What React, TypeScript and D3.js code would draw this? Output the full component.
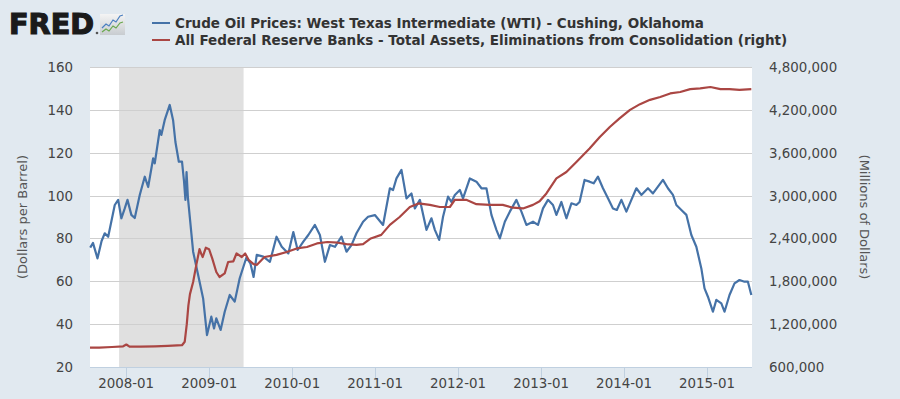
import React, { useRef, useEffect } from 'react';
import * as d3 from 'd3';

// WTI crude, dollars per barrel
const oilSeries: [string, number][] = [
  ['2007-07-27', 75.7], ['2007-08-08', 77.9], ['2007-08-28', 70.7], ['2007-09-15', 78.8],
  ['2007-09-29', 82.4], ['2007-10-14', 80.8], ['2007-11-12', 95.6], ['2007-11-27', 98],
  ['2007-12-11', 89.4], ['2007-12-26', 94], ['2008-01-07', 98], ['2008-01-24', 91],
  ['2008-02-08', 89.5], ['2008-03-01', 100.3], ['2008-03-23', 108.8], ['2008-04-07', 104],
  ['2008-04-29', 117.4], ['2008-05-06', 115], ['2008-05-28', 130.6], ['2008-06-04', 128.3],
  ['2008-06-19', 135.3], ['2008-07-11', 142.3], ['2008-07-26', 135], ['2008-08-05', 125],
  ['2008-08-20', 115.8], ['2008-09-03', 115.8], ['2008-09-12', 106.5], ['2008-09-18', 98],
  ['2008-09-23', 111], ['2008-09-29', 99], ['2008-10-22', 73.8], ['2008-11-13', 62.9],
  ['2008-12-05', 52], ['2008-12-22', 34.9], ['2009-01-10', 43.5], ['2009-01-22', 38],
  ['2009-02-01', 42.7], ['2009-02-20', 37.3], ['2009-03-10', 45.8], ['2009-04-01', 53.6],
  ['2009-04-23', 50.5], ['2009-05-15', 61.4], ['2009-06-13', 71], ['2009-07-01', 68.4],
  ['2009-07-15', 62], ['2009-07-29', 72.3], ['2009-08-27', 71.5], ['2009-09-25', 69.1],
  ['2009-10-24', 80.8], ['2009-11-16', 76.1], ['2009-12-15', 73], ['2010-01-06', 83],
  ['2010-01-25', 74.6], ['2010-02-19', 78.5], ['2010-03-13', 81.6], ['2010-04-11', 86.3],
  ['2010-05-03', 81.6], ['2010-05-25', 69.1], ['2010-06-16', 76.9], ['2010-07-08', 76.1],
  ['2010-08-06', 80.8], ['2010-08-28', 73.8], ['2010-09-19', 76.9], ['2010-10-11', 82.4],
  ['2010-11-09', 87.8], ['2010-12-01', 90.1], ['2010-12-31', 90.9], ['2011-02-05', 86.3],
  ['2011-03-07', 103.4], ['2011-03-21', 102.6], ['2011-04-05', 108], ['2011-04-27', 112],
  ['2011-05-19', 98.7], ['2011-06-10', 101], ['2011-06-25', 94], ['2011-07-17', 98],
  ['2011-08-15', 84], ['2011-09-06', 89.4], ['2011-09-21', 84], ['2011-10-10', 79.3],
  ['2011-10-27', 90.1], ['2011-11-18', 99.5], ['2011-12-03', 97], ['2011-12-18', 100.3],
  ['2012-01-09', 102.6], ['2012-01-23', 98.7], ['2012-02-22', 108], ['2012-03-22', 106.5],
  ['2012-04-13', 103.4], ['2012-05-05', 103.4], ['2012-05-27', 91], ['2012-06-18', 84],
  ['2012-07-03', 80], ['2012-07-25', 87.8], ['2012-08-16', 92.5], ['2012-09-14', 98],
  ['2012-10-06', 92.5], ['2012-10-28', 86.3], ['2012-11-26', 87.8], ['2012-12-18', 86.3],
  ['2013-01-09', 94], ['2013-01-31', 98], ['2013-02-22', 95.6], ['2013-03-09', 91],
  ['2013-03-31', 97], ['2013-04-22', 89.4], ['2013-05-14', 96.4], ['2013-06-05', 95.6],
  ['2013-06-19', 97], ['2013-07-11', 107.3], ['2013-08-02', 106.5], ['2013-08-20', 105.7],
  ['2013-09-08', 108.8], ['2013-09-30', 103.4], ['2013-10-22', 98.7], ['2013-11-13', 94],
  ['2013-11-30', 93.3], ['2013-12-20', 98], ['2014-01-11', 92.5], ['2014-02-02', 98],
  ['2014-02-24', 103.4], ['2014-03-18', 100.3], ['2014-04-16', 103.4], ['2014-05-08', 101],
  ['2014-05-30', 104.2], ['2014-06-21', 107.3], ['2014-07-13', 103.4], ['2014-08-04', 100.3],
  ['2014-08-19', 95.6], ['2014-09-10', 93.3], ['2014-10-02', 91], ['2014-10-24', 81.6],
  ['2014-11-15', 76.1], ['2014-12-07', 66], ['2014-12-21', 56.7], ['2015-01-05', 52.8],
  ['2015-01-27', 45.8], ['2015-02-11', 51.3], ['2015-03-05', 49.7], ['2015-03-19', 45.8],
  ['2015-04-10', 53.6], ['2015-05-02', 59], ['2015-05-24', 60.6], ['2015-06-15', 59.8],
  ['2015-06-30', 59.8], ['2015-07-15', 53.6]
];

// Fed total assets, millions of dollars
const assetSeries: [string, number][] = [
  ['2007-07-26', 870000], ['2007-09-05', 872000], ['2007-10-31', 880000], ['2007-12-19', 890000],
  ['2008-01-02', 915000], ['2008-01-16', 885000], ['2008-03-05', 885000], ['2008-05-07', 890000],
  ['2008-07-02', 895000], ['2008-09-03', 905000], ['2008-09-15', 954000], ['2008-09-24', 1200000],
  ['2008-10-01', 1460000], ['2008-10-08', 1620000], ['2008-10-22', 1790000], ['2008-11-05', 2030000],
  ['2008-11-12', 2140000], ['2008-11-19', 2250000], ['2008-11-26', 2190000], ['2008-12-03', 2140000],
  ['2008-12-17', 2270000], ['2008-12-31', 2250000], ['2009-01-14', 2120000], ['2009-02-01', 1930000],
  ['2009-02-15', 1860000], ['2009-03-10', 1910000], ['2009-03-25', 2070000], ['2009-04-17', 2080000],
  ['2009-05-01', 2190000], ['2009-05-24', 2140000], ['2009-06-08', 2190000], ['2009-06-23', 2100000],
  ['2009-07-15', 2040000], ['2009-07-30', 2030000], ['2009-09-01', 2140000], ['2009-10-24', 2170000],
  ['2009-12-08', 2210000], ['2010-01-21', 2260000], ['2010-03-07', 2280000], ['2010-04-20', 2330000],
  ['2010-06-05', 2350000], ['2010-07-21', 2340000], ['2010-08-28', 2320000], ['2010-10-11', 2310000],
  ['2010-11-09', 2320000], ['2010-12-13', 2400000], ['2011-01-28', 2450000], ['2011-03-07', 2590000],
  ['2011-04-19', 2700000], ['2011-06-03', 2840000], ['2011-07-11', 2890000], ['2011-08-30', 2870000],
  ['2011-10-13', 2840000], ['2011-11-26', 2840000], ['2011-12-18', 2940000], ['2012-02-06', 2940000],
  ['2012-03-22', 2880000], ['2012-05-20', 2870000], ['2012-07-16', 2870000], ['2012-08-30', 2830000],
  ['2012-10-13', 2820000], ['2012-11-26', 2870000], ['2012-12-25', 2920000], ['2013-01-24', 3030000],
  ['2013-03-09', 3240000], ['2013-04-22', 3330000], ['2013-06-05', 3470000], ['2013-08-02', 3660000],
  ['2013-09-16', 3820000], ['2013-10-30', 3960000], ['2013-12-12', 4080000], ['2014-01-27', 4200000],
  ['2014-03-12', 4280000], ['2014-04-25', 4340000], ['2014-06-09', 4380000], ['2014-07-23', 4430000],
  ['2014-09-05', 4450000], ['2014-10-19', 4490000], ['2014-12-02', 4500000], ['2015-01-16', 4520000],
  ['2015-03-01', 4490000], ['2015-04-10', 4490000], ['2015-05-24', 4480000], ['2015-07-15', 4490000]
];

const leftTicks = [20, 40, 60, 80, 100, 120, 140, 160];
const rightTicks = [600000, 1200000, 1800000, 2400000, 3000000, 3600000, 4200000, 4800000];
const yearTicks = ['2008-01', '2009-01', '2010-01', '2011-01', '2012-01', '2013-01', '2014-01', '2015-01'];
const recession = ['2007-12-01', '2009-06-01'];
const legendLabels = [
  'Crude Oil Prices: West Texas Intermediate (WTI) - Cushing, Oklahoma',
  'All Federal Reserve Banks - Total Assets, Eliminations from Consolidation (right)'
];

const App = () => {
  const ref = useRef(null);

  useEffect(() => {
    document.body.style.margin = '0';
    const width = 900;
    const height = 399;
    const margin = { top: 67, right: 148, bottom: 32, left: 90 };
    const font = "'DejaVu Sans', Verdana, sans-serif";
    const parse = d3.timeParse('%Y-%m-%d');
    const parseMonth = d3.timeParse('%Y-%m');

    const svg = d3.select(ref.current).attr('width', width).attr('height', height);
    svg.selectAll('*').remove();

    svg.append('rect').attr('width', width).attr('height', height).attr('fill', '#e1e9f0');

    const x = d3.scaleTime()
      .domain([parse('2007-07-26'), parse('2015-07-18')])
      .range([margin.left, width - margin.right]);
    const yL = d3.scaleLinear().domain([20, 160]).range([height - margin.bottom, margin.top]);
    const yR = d3.scaleLinear().domain([600000, 4800000]).range([height - margin.bottom, margin.top]);

    const x0 = margin.left, x1 = width - margin.right;
    const yb = height - margin.bottom;

    svg.append('rect')
      .attr('x', x0).attr('y', margin.top)
      .attr('width', x1 - x0).attr('height', yb - margin.top)
      .attr('fill', '#ffffff');

    svg.append('rect')
      .attr('x', x(parse(recession[0]))).attr('y', margin.top)
      .attr('width', x(parse(recession[1])) - x(parse(recession[0])))
      .attr('height', yb - margin.top)
      .attr('fill', '#e0e0e0');

    // gridlines
    svg.append('g').selectAll('line')
      .data(leftTicks.slice(1))
      .enter().append('line')
      .attr('x1', x0).attr('x2', x1)
      .attr('y1', d => Math.round(yL(d)) + 0.5).attr('y2', d => Math.round(yL(d)) + 0.5)
      .attr('stroke', '#cfcfcf').attr('stroke-width', 1);

    // x axis
    const xg = svg.append('g');
    xg.append('line')
      .attr('x1', x0).attr('x2', x1).attr('y1', yb + 0.5).attr('y2', yb + 0.5)
      .attr('stroke', '#c0d0e0');
    xg.selectAll('.tick')
      .data(yearTicks)
      .enter().append('line')
      .attr('x1', d => Math.round(x(parseMonth(d))) + 0.5)
      .attr('x2', d => Math.round(x(parseMonth(d))) + 0.5)
      .attr('y1', yb).attr('y2', yb + 11)
      .attr('stroke', '#c0d0e0');
    xg.selectAll('text')
      .data(yearTicks)
      .enter().append('text')
      .attr('x', d => x(parseMonth(d)))
      .attr('y', yb + 21)
      .attr('text-anchor', 'middle')
      .style('font-family', font).style('font-size', '13.4px').attr('fill', '#444')
      .text(d => d);

    svg.append('g').selectAll('text')
      .data(leftTicks)
      .enter().append('text')
      .attr('x', 73).attr('y', d => yL(d) + 5)
      .attr('text-anchor', 'end')
      .style('font-family', font).style('font-size', '13.4px').attr('fill', '#444')
      .text(d => d);

    svg.append('g').selectAll('text')
      .data(rightTicks)
      .enter().append('text')
      .attr('x', 769).attr('y', d => yR(d) + 5)
      .attr('text-anchor', 'start')
      .style('font-family', font).style('font-size', '13.4px').attr('fill', '#444')
      .text(d => d3.format(',')(d));

    svg.append('text')
      .attr('transform', `translate(27,${(margin.top + yb) / 2}) rotate(-90)`)
      .attr('text-anchor', 'middle')
      .style('font-family', font).style('font-size', '13px').attr('fill', '#555')
      .text('(Dollars per Barrel)');
    svg.append('text')
      .attr('transform', `translate(860,${(margin.top + yb) / 2}) rotate(90)`)
      .attr('text-anchor', 'middle')
      .style('font-family', font).style('font-size', '13px').attr('fill', '#555')
      .text('(Millions of Dollars)');

    // series
    const oilLine = d3.line<[string, number]>()
      .x(d => x(parse(d[0])))
      .y(d => yL(d[1]));
    const assetLine = d3.line<[string, number]>()
      .x(d => x(parse(d[0])))
      .y(d => yR(d[1]));

    svg.append('path').datum(oilSeries)
      .attr('d', oilLine)
      .attr('fill', 'none').attr('stroke', '#4572a7').attr('stroke-width', 2.2)
      .attr('stroke-linejoin', 'round');
    svg.append('path').datum(assetSeries)
      .attr('d', assetLine)
      .attr('fill', 'none').attr('stroke', '#aa4643').attr('stroke-width', 2.2)
      .attr('stroke-linejoin', 'round');

    // legend
    const colors = ['#4572a7', '#aa4643'];
    legendLabels.forEach((label, i) => {
      svg.append('line')
        .attr('x1', 152).attr('x2', 170)
        .attr('y1', 23 + i * 17).attr('y2', 23 + i * 17)
        .attr('stroke', colors[i]).attr('stroke-width', 2);
      svg.append('text')
        .attr('x', 175).attr('y', 28 + i * 17)
        .style('font-family', font).style('font-size', '13.5px').style('font-weight', 'bold')
        .attr('fill', '#333')
        .text(label);
    });

    // FRED logo
    svg.append('text')
      .attr('x', 9).attr('y', 34)
      .attr('textLength', 85).attr('lengthAdjust', 'spacingAndGlyphs')
      .style('font-family', font).style('font-size', '29px').style('font-weight', 'bold')
      .attr('fill', '#1a1a1a').attr('stroke', '#1a1a1a').attr('stroke-width', 1.2)
      .text('FRED');
    svg.append('circle').attr('cx', 97).attr('cy', 33).attr('r', 1.3).attr('fill', '#555');
    const grad = svg.append('defs').append('linearGradient')
      .attr('id', 'logoGrad').attr('x1', 0).attr('y1', 0).attr('x2', 0).attr('y2', 1);
    grad.append('stop').attr('offset', '0%').attr('stop-color', '#f4f4f4');
    grad.append('stop').attr('offset', '100%').attr('stop-color', '#c8ccd0');
    svg.append('rect').attr('x', 100).attr('y', 14).attr('width', 25).attr('height', 21)
      .attr('fill', 'url(#logoGrad)');
    svg.append('polyline')
      .attr('points', '102,28 106,24 109,26 113,20 116,22 120,16 123,15')
      .attr('fill', 'none').attr('stroke', '#4a7fc0').attr('stroke-width', 1.2);
    svg.append('polyline')
      .attr('points', '102,32 106,29 109,31 113,26 116,28 120,23 123,22')
      .attr('fill', 'none').attr('stroke', '#6aa84f').attr('stroke-width', 1.2);
  }, []);

  return <svg ref={ref} />;
};

export default App;
